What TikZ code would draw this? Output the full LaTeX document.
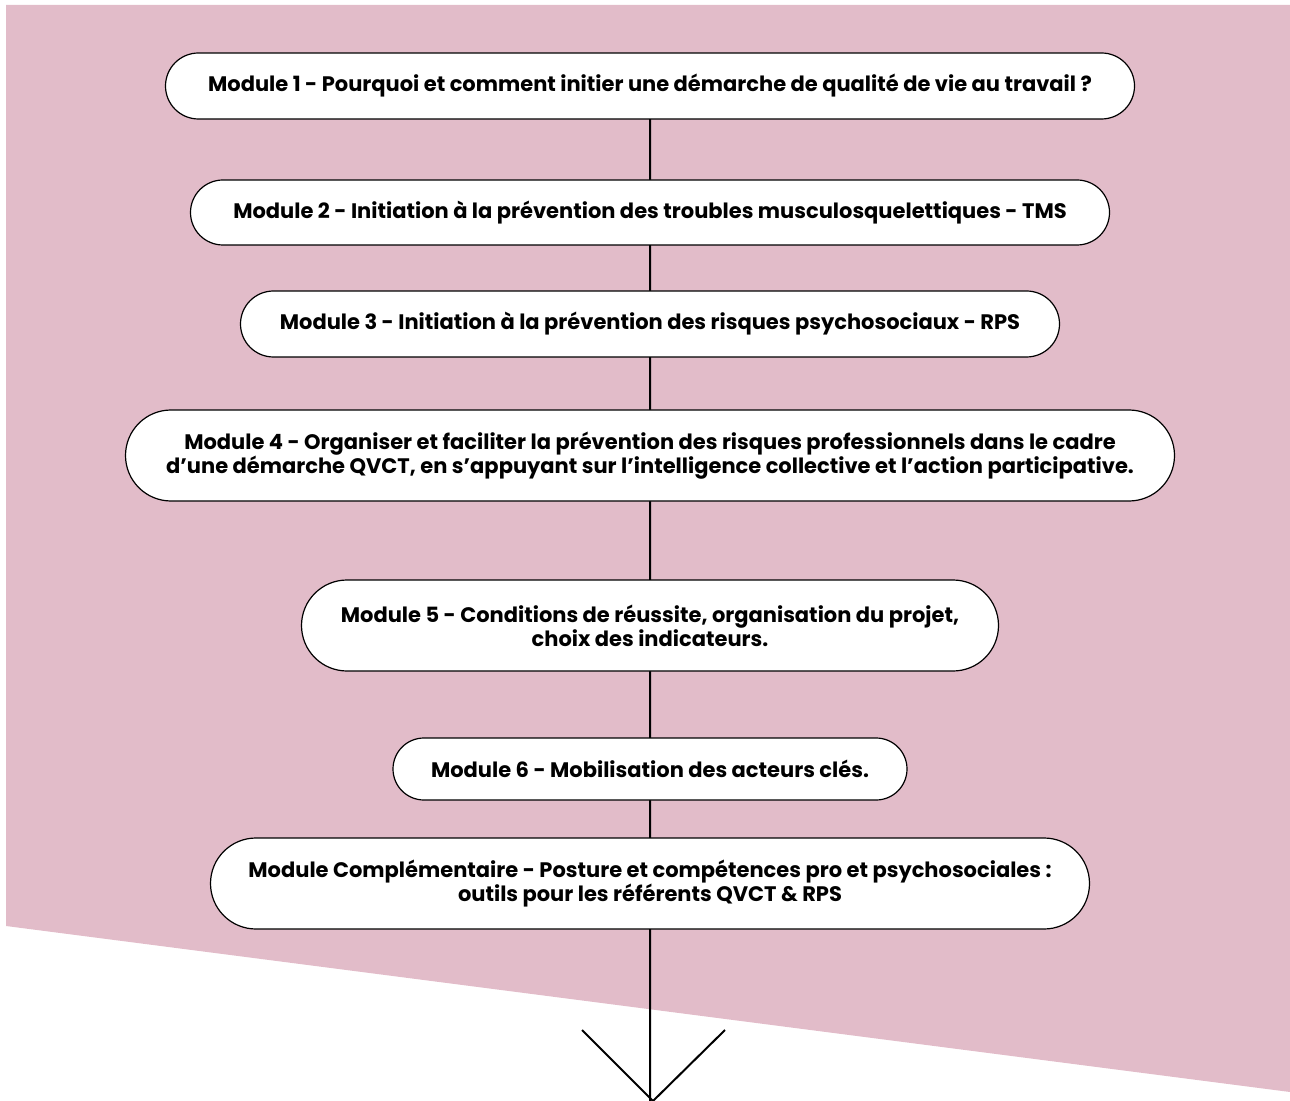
\documentclass[tikz,border=0pt]{standalone}
\usepackage{fontspec}
\setmainfont{Poppins}
\usetikzlibrary{shapes,arrows,calc,positioning,backgrounds}
\definecolor{rosebg}{RGB}{226,188,201}

\begin{document}
\begin{tikzpicture}[x=0.5pt,y=0.5pt,
  mod/.style={rounded rectangle, draw, line width=0.6pt, fill=white, inner sep=0pt, outer sep=0pt,
    align=center, font=\bfseries\fontsize{10.5}{12}\selectfont}]
  \useasboundingbox (0,0) rectangle (1290,-1101);

  \node [mod, minimum width=484.5pt, minimum height=33pt] at (650,-86) (m1) {Module 1 - Pourquoi et comment initier une démarche de qualité de vie au travail ?};
  \node [mod, minimum width=459.5pt, minimum height=32.5pt, below=30.5pt of m1] (m2) {Module 2 - Initiation à la prévention des troubles musculosquelettiques - TMS};
  \node [mod, minimum width=409.5pt, minimum height=33pt, below=23pt of m2] (m3) {Module 3 - Initiation à la prévention des risques psychosociaux - RPS};
  \node [mod, minimum width=524.5pt, minimum height=45.5pt, below=26.5pt of m3] (m4) {Module 4 - Organiser et faciliter la prévention des risques professionnels dans le cadre\\d’une démarche QVCT, en s’appuyant sur l’intelligence collective et l’action participative.};
  \node [mod, minimum width=348.5pt, minimum height=45.5pt, below=39.5pt of m4] (m5) {Module 5 - Conditions de réussite, organisation du projet,\\choix des indicateurs.};
  \node [mod, minimum width=257pt, minimum height=31pt, below=33.5pt of m5] (m6) {Module 6 - Mobilisation des acteurs clés.};
  \node [mod, minimum width=439.5pt, minimum height=45.5pt, below=19pt of m6] (m7) {Module Complémentaire - Posture et compétences pro et psychosociales :\\outils pour les référents QVCT \& RPS};

  \coordinate (tip) at (653,-1101);

  \begin{scope}[on background layer]
  \fill [rosebg] (6,-5) -- (1290,-5) -- (1290,-1092) -- (6,-926) -- cycle;
  \draw [line width=1pt] (m1) -- (m2) ;
  \draw [line width=1pt] (m2) -- (m3) ;
  \draw [line width=1pt] (m3) -- (m4) ;
  \draw [line width=1pt] (m4) -- (m5) ;
  \draw [line width=1pt] (m5) -- (m6) ;
  \draw [line width=1pt] (m6) -- (m7) ;
  \end{scope}
  \draw [line width=1pt] (m7) -- (m7.south |- tip) ;
  \draw [line width=1pt] ($(tip)+(-71,71)$) -- (tip) -- ($(tip)+(72,71)$) ;
\end{tikzpicture}
\end{document}
